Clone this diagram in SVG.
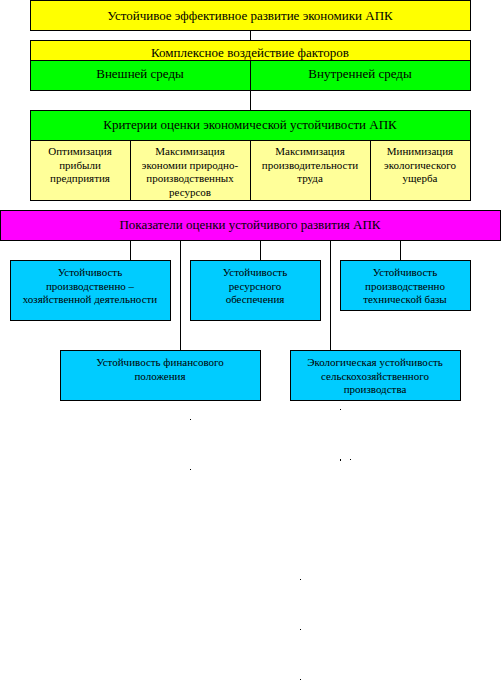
<svg xmlns="http://www.w3.org/2000/svg" width="503" height="682" viewBox="0 0 503 682">
<style>
rect.b{stroke:#000;stroke-width:1}
.y{fill:#FFFF00}.g{fill:#00FF00}.ly{fill:#FFFF99}.m{fill:#FF00FF}.c{fill:#00CCFF}
text{font-family:"Liberation Serif","DejaVu Serif","Times New Roman",serif;fill:#000;text-anchor:middle}
.h{font-size:13px}.s{font-size:11px}
#connectors line{stroke:#000;stroke-width:1}
.dot{fill:#000}
</style>
<rect width="503" height="682" fill="#fff"/>
<g id="connectors">
<line x1="250.5" y1="30" x2="250.5" y2="40"/>
<line x1="250.5" y1="91" x2="250.5" y2="110"/>
<line x1="130.5" y1="240" x2="130.5" y2="260"/>
<line x1="260.5" y1="240" x2="260.5" y2="260"/>
<line x1="400.5" y1="240" x2="400.5" y2="260"/>
<line x1="180.5" y1="240" x2="180.5" y2="350"/>
<line x1="330.5" y1="240" x2="330.5" y2="350"/>
</g>
<g id="n1">
<rect class="b y" x="30.5" y="0.5" width="440" height="30"/>
<text class="h" x="250" y="19.5">Устойчивое эффективное развитие экономики АПК</text>
</g>
<g id="n2">
<rect class="b y" x="30.5" y="40.5" width="440" height="20"/>
<text class="h" x="250" y="57">Комплексное воздействие факторов</text>
</g>
<g id="n2a">
<rect class="b g" x="30.5" y="60.5" width="220" height="30"/>
<text class="h" x="140" y="78">Внешней среды</text>
</g>
<g id="n2b">
<rect class="b g" x="250.5" y="60.5" width="220" height="30"/>
<text class="h" x="360" y="78">Внутренней среды</text>
</g>
<g id="n3">
<rect class="b g" x="30.5" y="110.5" width="440" height="30"/>
<text class="h" x="250" y="129">Критерии оценки экономической устойчивости АПК</text>
</g>
<g id="n3a">
<rect class="b ly" x="30.5" y="140.5" width="100" height="60"/>
<text class="s" x="80" y="155">Оптимизация</text>
<text class="s" x="80" y="168.5">прибыли</text>
<text class="s" x="80" y="182">предприятия</text>
</g>
<g id="n3b">
<rect class="b ly" x="130.5" y="140.5" width="120" height="60"/>
<text class="s" x="190" y="155">Максимизация</text>
<text class="s" x="190" y="168.5">экономии природно-</text>
<text class="s" x="190" y="182">производственных</text>
<text class="s" x="190" y="195.5">ресурсов</text>
</g>
<g id="n3c">
<rect class="b ly" x="250.5" y="140.5" width="120" height="60"/>
<text class="s" x="310" y="155">Максимизация</text>
<text class="s" x="310" y="168.5">производительности</text>
<text class="s" x="310" y="182">труда</text>
</g>
<g id="n3d">
<rect class="b ly" x="370.5" y="140.5" width="100" height="60"/>
<text class="s" x="420" y="155">Минимизация</text>
<text class="s" x="420" y="168.5">экологического</text>
<text class="s" x="420" y="182">ущерба</text>
</g>
<g id="n4">
<rect class="b m" x="0.5" y="210.5" width="500" height="30"/>
<text class="h" x="250" y="229">Показатели оценки устойчивого развития АПК</text>
</g>
<g id="n5">
<rect class="b c" x="10.5" y="260.5" width="160" height="60"/>
<text class="s" x="90" y="276">Устойчивость</text>
<text class="s" x="90" y="289.5">производственно –</text>
<text class="s" x="90" y="303">хозяйственной деятельности</text>
</g>
<g id="n6">
<rect class="b c" x="190.5" y="260.5" width="130" height="60"/>
<text class="s" x="255" y="276">Устойчивость</text>
<text class="s" x="255" y="289.5">ресурсного</text>
<text class="s" x="255" y="303">обеспечения</text>
</g>
<g id="n7">
<rect class="b c" x="340.5" y="260.5" width="130" height="50"/>
<text class="s" x="405" y="276">Устойчивость</text>
<text class="s" x="405" y="289.5">производственно</text>
<text class="s" x="405" y="303">технической базы</text>
</g>
<g id="n8">
<rect class="b c" x="60.5" y="350.5" width="200" height="50"/>
<text class="s" x="160" y="366">Устойчивость финансового</text>
<text class="s" x="160" y="379.5">положения</text>
</g>
<g id="n9">
<rect class="b c" x="290.5" y="350.5" width="170" height="50"/>
<text class="s" x="375" y="366">Экологическая устойчивость</text>
<text class="s" x="375" y="379.5">сельскохозяйственного</text>
<text class="s" x="375" y="393">производства</text>
</g>
<g id="marks">
<rect class="dot" x="190" y="419" width="1" height="1"/>
<rect class="dot" x="190" y="469" width="1" height="1"/>
<rect class="dot" x="340" y="409" width="1" height="1"/>
<rect class="dot" x="340" y="459" width="1" height="2"/>
<rect class="dot" x="350" y="459" width="1" height="1"/>
<rect class="dot" x="300" y="579" width="1" height="1"/>
<rect class="dot" x="300" y="629" width="1" height="1"/>
<rect class="dot" x="300" y="679" width="1" height="1"/>
</g>
</svg>
